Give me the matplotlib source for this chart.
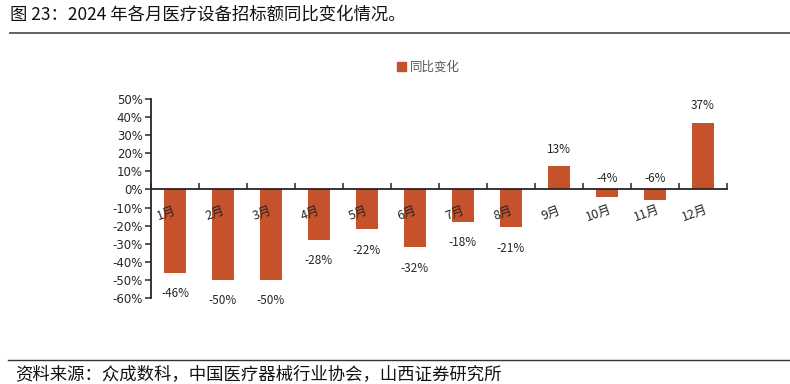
import matplotlib
matplotlib.use("Agg")
import matplotlib.pyplot as plt
from matplotlib.lines import Line2D
from matplotlib.patches import Patch

plt.rcParams["font.family"] = ["Noto Sans CJK SC", "DejaVu Sans"]

months = ["1月", "2月", "3月", "4月", "5月", "6月", "7月", "8月", "9月", "10月", "11月", "12月"]
yoy = [-46, -50, -50, -28, -22, -32, -18, -21, 13, -4, -6, 37]
labels = ["-46%", "-50%", "-50%", "-28%", "-22%", "-32%", "-18%", "-21%", "13%", "-4%", "-6%", "37%"]
yticks = list(range(-60, 51, 10))

bar_color = "#C5522B"
axis_color = "#262626"
text_color = "#262626"

W, H = 790, 384
fig = plt.figure(figsize=(W / 100, H / 100), dpi=100)

ax = fig.add_axes([151 / W, 1 - 298 / H, (727 - 151) / W, (298 - 99) / H])
x = list(range(len(months)))
ax.bar(x, yoy, width=0.46, color=bar_color, zorder=2)
ax.set_xlim(-0.5, len(months) - 0.5)
ax.set_ylim(-60, 50)

for s in ["top", "right"]:
    ax.spines[s].set_visible(False)
ax.spines["bottom"].set_position(("data", 0))
ax.spines["bottom"].set_color(axis_color)
ax.spines["left"].set_color(axis_color)
ax.spines["bottom"].set_linewidth(1.3)
ax.spines["left"].set_linewidth(1.3)
ax.spines["bottom"].set_zorder(3)

ax.set_yticks(yticks)
ax.set_yticklabels([f"{v}%" for v in yticks], fontsize=8.5, color=text_color,
                   family=["DejaVu Sans"])
ax.tick_params(axis="y", direction="out", length=4, width=1.1, color=axis_color, pad=2)

ax.set_xticks([i + 0.5 for i in range(-1, len(months))])
ax.set_xticklabels([])
ax.tick_params(axis="x", direction="in", length=4, width=1.1, color=axis_color)

for i, m in enumerate(months):
    ax.annotate(m, (i, 0), xytext=(-6, -17), textcoords="offset points",
                ha="center", va="center", rotation=20, fontsize=9, color=text_color)

for i, (v, lab) in enumerate(zip(yoy, labels)):
    if v >= 0:
        ax.annotate(lab, (i, v), xytext=(0, 12), textcoords="offset points",
                    ha="center", va="center", fontsize=8.5, color=text_color)
    elif v > -10:
        ax.annotate(lab, (i, 0), xytext=(0, 8), textcoords="offset points",
                    ha="center", va="center", fontsize=8.5, color=text_color)
    else:
        ax.annotate(lab, (i, v), xytext=(0, -15), textcoords="offset points",
                    ha="center", va="center", fontsize=8.5, color=text_color)

fig.legend(handles=[Patch(color=bar_color)], labels=["同比变化"],
           loc="center left", bbox_to_anchor=(386 / W, 1 - 67 / H),
           frameon=False, fontsize=9, handlelength=0.7, handleheight=0.7,
           handletextpad=0.3, labelcolor="#595959")

fig.text(10 / W, 1 - 15 / H, "图 23：2024 年各月医疗设备招标额同比变化情况。",
         fontsize=12.5, ha="left", va="center", color="#111111")
fig.add_artist(Line2D([10 / W, 1], [1 - 33 / H, 1 - 33 / H], color="#555555", lw=1.3))
fig.add_artist(Line2D([8 / W, 1], [1 - 360 / H, 1 - 360 / H], color="#333333", lw=1.0))
fig.text(15 / W, 1 / H, "资料来源：众成数科，中国医疗器械行业协会，山西证券研究所",
         fontsize=12.5, ha="left", va="bottom", color="#111111")

fig.savefig("out.png", dpi=100)
